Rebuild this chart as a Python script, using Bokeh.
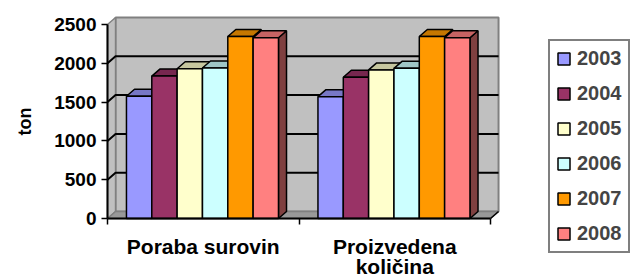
from bokeh.plotting import figure
from bokeh.models import Range1d, FixedTicker, Label
from bokeh.embed import file_html
from bokeh.resources import INLINE

# ---- data ----
categories = ["Poraba surovin", "Proizvedena količina"]
category_lines = [["Poraba surovin"], ["Proizvedena", "količina"]]
years = ["2003", "2004", "2005", "2006", "2007", "2008"]
v2003 = [1575, 1570]
v2004 = [1835, 1820]
v2005 = [1930, 1915]
v2006 = [1940, 1935]
v2007 = [2345, 2345]
v2008 = [2330, 2330]
series = [v2003, v2004, v2005, v2006, v2007, v2008]
colors = ["#9999FF", "#993366", "#FFFFCC", "#CCFFFF", "#FF9900", "#FF8080"]
y_ticks = [0, 500, 1000, 1500, 2000, 2500]

# ---- layout / 3D geometry (style) ----
W, H = 632, 277
AX_X, AX_Y = 107, 218          # screen position of the value-axis origin
CAT_PX = 191.5                 # pixels per category
VAL_PX = 194 / 2500            # pixels per value unit
DX = 0.042                     # depth offset in category units
DY = 90                        # depth offset in value units
BAR_W = 0.1323
GROUP_OFF = 0.099
YMAX = y_ticks[-1]
FONT = "Liberation Sans"


def shade(c, f):
    r, g, b = int(c[1:3], 16), int(c[3:5], 16), int(c[5:7], 16)
    return "#%02x%02x%02x" % (int(r * f), int(g * f), int(b * f))


ncat = len(categories)
p = figure(width=W, height=H,
           x_range=Range1d(-AX_X / CAT_PX, (W - AX_X) / CAT_PX),
           y_range=Range1d(-(H - AX_Y) / VAL_PX, AX_Y / VAL_PX),
           output_backend="svg", toolbar_location=None,
           min_border=0)
p.outline_line_color = None
p.xgrid.visible = False
p.ygrid.visible = False
p.background_fill_color = "white"
p.border_fill_color = "white"

# walls and floor
p.quad(left=[DX], right=[ncat + DX], bottom=[DY], top=[YMAX + DY],
       fill_color="#C0C0C0", line_color="#808080", line_width=2)
p.patch(x=[0, DX, DX, 0], y=[0, DY, YMAX + DY, YMAX],
        fill_color="#C0C0C0", line_color="#808080", line_width=1.5)
p.patch(x=[0, ncat, ncat + DX, DX], y=[0, 0, DY, DY],
        fill_color="#999999", line_color="#808080", line_width=1.5)
p.segment(x0=[ncat], y0=[0], x1=[ncat + DX], y1=[DY], line_color="black", line_width=1.5)

# gridlines on left wall and back wall
gx, gy = [], []
for v in y_ticks[1:-1]:
    gx.append([0, DX, ncat + DX])
    gy.append([v, v + DY, v + DY])
p.multi_line(xs=gx, ys=gy, line_color="black", line_width=2)

# bars
for j, (yr, vals, col) in enumerate(zip(years, series, colors)):
    x0 = [i + GROUP_OFF + j * BAR_W for i in range(ncat)]
    x1 = [a + BAR_W for a in x0]
    p.patches(xs=[[b, b + DX, b + DX, b] for b in x1],
              ys=[[0, DY, v + DY, v] for v in vals],
              fill_color=shade(col, 0.5), line_color="black", line_width=1.5)
    p.patches(xs=[[a, a + DX, b + DX, b] for a, b in zip(x0, x1)],
              ys=[[v, v + DY, v + DY, v] for v in vals],
              fill_color=shade(col, 0.78), line_color="black", line_width=1.5)
    p.quad(left=x0, right=x1, bottom=[0] * ncat, top=vals,
           fill_color=col, line_color="black", line_width=1.5, legend_label=yr)

# y axis, pinned at x = 0
ya = p.yaxis[0]
ya.fixed_location = 0
ya.ticker = FixedTicker(ticks=y_ticks)
ya.bounds = (0, YMAX)
ya.axis_line_width = 2
ya.major_tick_out = 6
ya.major_tick_in = 0
ya.major_tick_line_width = 1.5
ya.minor_tick_line_color = None
ya.major_label_standoff = 5
ya.major_label_text_font = FONT
ya.major_label_text_font_style = "bold"
ya.major_label_text_font_size = "19px"
ya.major_label_text_color = "black"
ya.axis_label = "ton"
ya.axis_label_text_font = FONT
ya.axis_label_text_font_style = "bold"
ya.axis_label_text_font_size = "18px"
ya.axis_label_text_color = "black"
ya.axis_label_standoff = 16

# x axis (category boundaries), pinned at y = 0
xa = p.xaxis[0]
xa.fixed_location = 0
xa.ticker = FixedTicker(ticks=[float(i) for i in range(ncat + 1)])
xa.major_label_overrides = {float(i): "" for i in range(ncat + 1)}
xa.bounds = (0, ncat)
xa.axis_line_width = 2
xa.major_tick_out = 6
xa.major_tick_in = 0
xa.major_tick_line_width = 1.5
xa.minor_tick_line_color = None

# category labels
for i, lines in enumerate(category_lines):
    for k, line in enumerate(lines):
        p.add_layout(Label(x=i + 0.5, y=-(28 + 20 * k) / VAL_PX, text=line,
                           text_align="center", text_baseline="alphabetic",
                           text_font=FONT, text_font_style="bold",
                           text_font_size="21px", text_color="black"))

# legend
lg = p.legend[0]
lg.location = (548, 24)
lg.border_line_color = "black"
lg.border_line_width = 2
lg.padding = 6
lg.spacing = 12
lg.margin = 0
lg.label_height = 23
lg.glyph_height = 15
lg.glyph_width = 15
lg.label_standoff = 6
lg.label_text_font = FONT
lg.label_text_font_style = "bold"
lg.label_text_font_size = "20px"
lg.background_fill_color = "white"
lg.background_fill_alpha = 1

open("out.html", "w").write(file_html(p, INLINE))
